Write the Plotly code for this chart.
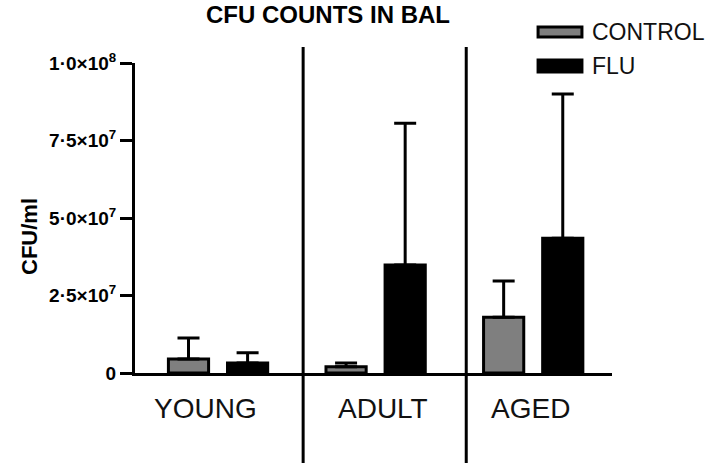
import plotly.graph_objects as go

groups = ["YOUNG", "ADULT", "AGED"]
control_mean = [4.5e6, 2.0e6, 1.8e7]
control_err = [6.8e6, 1.2e6, 1.17e7]
flu_mean = [3.2e6, 3.48e7, 4.35e7]
flu_err = [3.3e6, 4.58e7, 4.65e7]
series_names = ["CONTROL", "FLU"]
ytick_vals = [0, 2.5e7, 5.0e7, 7.5e7, 1.0e8]
ytick_text = ["0", "2·5×10<sup>7</sup>", "5·0×10<sup>7</sup>", "7·5×10<sup>7</sup>", "1·0×10<sup>8</sup>"]
separator_pos = [0.54, 1.575]
title_text = "CFU COUNTS IN BAL"
ytitle_text = "CFU/ml"

FONT = "Liberation Sans, Arial, sans-serif"
GRAY = "#7f7f7f"

fig = go.Figure()
fig.add_trace(go.Bar(
    x=groups, y=control_mean, name=series_names[0],
    marker=dict(color=GRAY, line=dict(color="black", width=3)),
    error_y=dict(type="data", array=control_err, symmetric=False, arrayminus=[0, 0, 0],
                 color="black", thickness=3, width=11),
))
fig.add_trace(go.Bar(
    x=groups, y=flu_mean, name=series_names[1],
    marker=dict(color="black", line=dict(color="black", width=3)),
    error_y=dict(type="data", array=flu_err, symmetric=False, arrayminus=[0, 0, 0],
                 color="black", thickness=3, width=11),
))

fig.update_layout(
    width=712, height=468,
    margin=dict(l=135, r=100, t=63, b=95),
    paper_bgcolor="white", plot_bgcolor="white",
    barmode="group", bargap=0.25, bargroupgap=0.32,
    showlegend=False, hovermode=False,
    font=dict(family=FONT, color="black"),
)
fig.update_xaxes(
    range=[-0.527, 2.5], showgrid=False, zeroline=False,
    showline=True, linecolor="black", linewidth=3, ticks="",
    showticklabels=False,
)
fig.update_yaxes(
    range=[0, 1.0e8], showgrid=False, zeroline=False,
    showline=True, linecolor="black", linewidth=3,
    ticks="outside", ticklen=12, tickwidth=3, tickcolor="black",
    tickvals=ytick_vals, ticktext=["<b>%s</b>" % t for t in ytick_text],
    tickfont=dict(size=19, color="black"),
)

# category labels (slightly offset from the bar-group centres, as in the original)
label_shift = [-13, 7, -3]
for g, dx in zip(groups, label_shift):
    fig.add_annotation(text=g, xref="x", yref="paper", x=g, y=-0.116, xshift=dx,
                       xanchor="center", yanchor="middle", showarrow=False,
                       font=dict(size=28, color="#111"))

for xs in separator_pos:
    fig.add_shape(type="line", xref="x", yref="paper", x0=xs, x1=xs, y0=-0.29, y1=1.052,
                  line=dict(color="black", width=3))

# title
fig.add_annotation(text="<b>%s</b>" % title_text, xref="paper", yref="paper",
                   x=0.405, y=1.155, xanchor="center", yanchor="middle", showarrow=False,
                   font=dict(size=24, color="black"))
# y title
fig.add_annotation(text="<b>%s</b>" % ytitle_text, xref="paper", yref="paper",
                   x=-0.22, y=0.439, xanchor="center", yanchor="middle", textangle=-90,
                   showarrow=False, font=dict(size=22, color="black"))

# legend (manual)
legend_items = [(series_names[0], GRAY, 1.116, 1.084, 1.100),
                (series_names[1], "black", 1.010, 0.971, 0.990)]
for name, col, y1, y0, ty in legend_items:
    fig.add_shape(type="rect", xref="paper", yref="paper", x0=0.845, x1=0.937, y0=y0, y1=y1,
                  fillcolor=col, line=dict(color="black", width=3))
    fig.add_annotation(text=name, xref="paper", yref="paper", x=0.954, y=ty,
                       xanchor="left", yanchor="middle", showarrow=False,
                       font=dict(size=23, color="#111"))

# remove the browser's default 8px body margin so the figure fills the window
fig.write_html("out.html", config={"displayModeBar": False},
               post_script="document.body.style.margin='0';")
